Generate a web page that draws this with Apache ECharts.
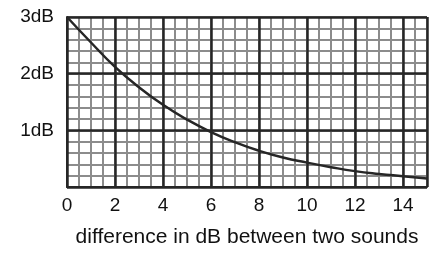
<!DOCTYPE html>
<html>
<head>
<meta charset="utf-8">
<script src="https://cdn.jsdelivr.net/npm/echarts@6/dist/echarts.min.js"></script>
<style>
  html, body { margin: 0; padding: 0; background: #fff; }
  #chart { width: 429px; height: 253px; }
</style>
</head>
<body>
<div id="chart"></div>
<script>
// difference between the two levels (dB) and the amount added to the louder one (dB)
var diffs = [0, 1, 2, 3, 4, 5, 6, 7, 8, 9, 10, 11, 12, 13, 14, 15];
var added = [3.0, 2.55, 2.12, 1.76, 1.45, 1.19, 0.97, 0.79, 0.64, 0.52, 0.43, 0.35, 0.28, 0.23, 0.19, 0.15];
var xName = 'difference in dB between two sounds';
var yUnit = 'dB';

var font = 'Liberation Sans, Arial, sans-serif';
var dark = '#262626';
var grey = '#8c8c8c';

var dom = document.getElementById('chart');
var myChart = echarts.init(dom);

var points = diffs.map(function (d, i) { return [d, added[i]]; });

var option = {
    animation: false,
    backgroundColor: '#fff',
    grid: { left: 67, top: 17, right: 2, bottom: 56 },
    xAxis: [
        {   // fine grid, every 0.5 dB
            type: 'value', min: 0, max: 15, interval: 0.5, z: 0,
            axisLine: { show: false }, axisTick: { show: false }, axisLabel: { show: false },
            splitLine: { lineStyle: { color: grey, width: 2 } }
        },
        {   // heavy grid, every 2 dB
            type: 'value', min: 0, max: 15, interval: 2, position: 'bottom', z: 1,
            axisLine: { show: true, lineStyle: { color: dark, width: 2 } },
            axisTick: { show: false },
            axisLabel: {
                fontSize: 19, color: '#111', fontFamily: font, margin: 9,
                showMaxLabel: false,
                formatter: function (v) { return v % 2 === 0 ? String(v) : ''; }
            },
            splitLine: { lineStyle: { color: dark, width: 2.5 } },
            name: xName, nameLocation: 'middle', nameGap: 40,
            nameTextStyle: { fontSize: 21, color: '#111', fontFamily: font }
        }
    ],
    yAxis: [
        {   // fine grid, every 0.2 dB
            type: 'value', min: 0, max: 3, interval: 0.2, position: 'left', z: 0,
            axisLine: { show: false }, axisTick: { show: false }, axisLabel: { show: false },
            splitLine: { lineStyle: { color: grey, width: 2 } }
        },
        {   // heavy grid, every 1 dB
            type: 'value', min: 0, max: 3, interval: 1, position: 'left', z: 1,
            axisLine: { show: true, lineStyle: { color: dark, width: 2 } },
            axisTick: { show: false },
            axisLabel: {
                fontSize: 19, color: '#111', fontFamily: font, margin: 13,
                formatter: function (v) { return v === 0 ? '' : v + yUnit; }
            },
            splitLine: { lineStyle: { color: dark, width: 2.5 } }
        }
    ],
    series: [
        {
            type: 'line',
            xAxisIndex: 1,
            yAxisIndex: 1,
            data: points,
            smooth: true,
            showSymbol: false,
            z: 3,
            lineStyle: { color: dark, width: 2.5 }
        }
    ]
};

if (option && typeof option === "object") {
    myChart.setOption(option, true);
}
</script>
</body>
</html>
